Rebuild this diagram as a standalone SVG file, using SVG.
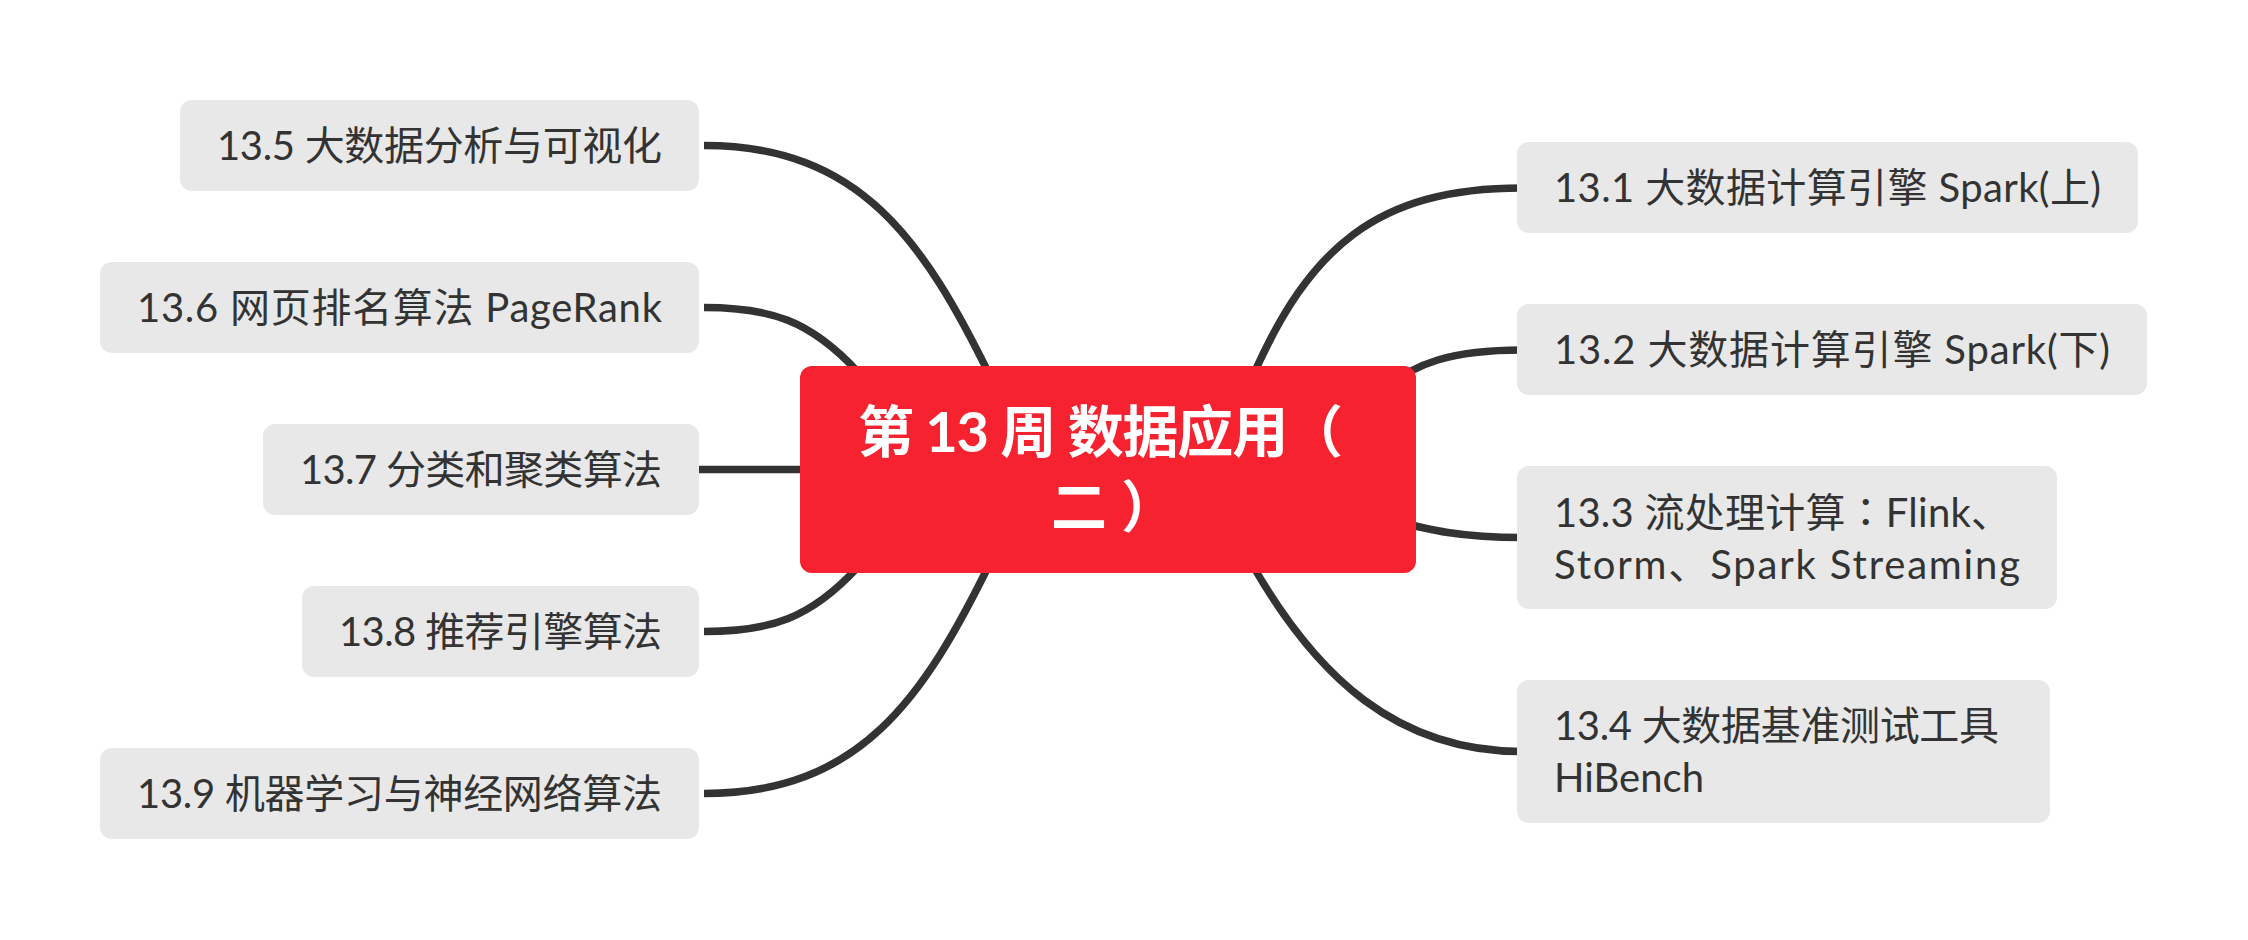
<svg xmlns="http://www.w3.org/2000/svg" width="2248" height="940" viewBox="0 0 2248 940">
  <style>
    .bg { fill: #FFFFFF; }
    .link { fill: none; stroke: #333333; stroke-width: 7.5; stroke-linecap: butt; }
    .topic { fill: #E8E8E8; }
    .central { fill: #F6222F; }
    .label { font-family: Lato, "Noto Sans CJK SC", sans-serif; font-size: 40px; fill: #333333; }
    .title { font-family: Lato, "Noto Sans CJK SC", sans-serif; font-size: 56px; font-weight: bold; fill: #FFFFFF; }
    .centred-punct { font-family: "Noto Sans CJK JP", sans-serif; }
  </style>

  <rect class="bg" x="0" y="0" width="2248" height="940"/>

  <!-- branch lines, drawn beneath the topics -->
  <g id="connectors">
    <path class="link" d="M 992 380 C 923.5 240, 860 145.5, 704 145.5"/>
    <path class="link" d="M 858 372 C 810 320, 770 307.5, 704 307.5"/>
    <path class="link" d="M 805 469.5 L 694 469.5"/>
    <path class="link" d="M 858 567 C 810 619, 770 631.5, 704 631.5"/>
    <path class="link" d="M 992 559 C 923.5 699, 860 793.5, 704 793.5"/>
    <path class="link" d="M 1252 378 C 1309 248, 1376 188, 1522 188"/>
    <path class="link" d="M 1385 388 C 1415 364, 1450 350, 1522 350"/>
    <path class="link" d="M 1390 520 C 1430 530, 1460 537.5, 1522 537.5"/>
    <path class="link" d="M 1253 566 C 1317 677, 1396.7 751.5, 1522 751.5"/>
  </g>

  <!-- central topic -->
  <g id="central">
    <rect class="central" x="800" y="366" width="616" height="207" rx="12" ry="12"/>
    <text class="title" x="858" y="452" textLength="485">第 13 周 数据应用（</text>
    <text class="title" x="1051" y="527">二<tspan dx="14">）</tspan></text>
  </g>

  <!-- left-hand topics -->
  <g id="t13-5">
    <rect class="topic" x="180" y="100" width="519" height="91" rx="12" ry="12"/>
    <text class="label" x="217" y="160" textLength="445">13.5 大数据分析与可视化</text>
  </g>
  <g id="t13-6">
    <rect class="topic" x="100" y="262" width="599" height="91" rx="12" ry="12"/>
    <text class="label" x="137" y="322" textLength="525">13.6 网页排名算法 PageRank</text>
  </g>
  <g id="t13-7">
    <rect class="topic" x="263" y="424" width="436" height="91" rx="12" ry="12"/>
    <text class="label" x="300" y="484" textLength="362">13.7 分类和聚类算法</text>
  </g>
  <g id="t13-8">
    <rect class="topic" x="302" y="586" width="397" height="91" rx="12" ry="12"/>
    <text class="label" x="339" y="646" textLength="323">13.8 推荐引擎算法</text>
  </g>
  <g id="t13-9">
    <rect class="topic" x="100" y="748" width="599" height="91" rx="12" ry="12"/>
    <text class="label" x="137" y="808" textLength="525">13.9 机器学习与神经网络算法</text>
  </g>

  <!-- right-hand topics -->
  <g id="t13-1">
    <rect class="topic" x="1517" y="142" width="621" height="91" rx="12" ry="12"/>
    <text class="label" x="1554" y="202" textLength="547">13.1 大数据计算引擎 Spark(上)</text>
  </g>
  <g id="t13-2">
    <rect class="topic" x="1517" y="304" width="630" height="91" rx="12" ry="12"/>
    <text class="label" x="1554" y="364" textLength="556">13.2 大数据计算引擎 Spark(下)</text>
  </g>
  <g id="t13-3">
    <rect class="topic" x="1517" y="466" width="540" height="143" rx="12" ry="12"/>
    <text class="label" x="1554" y="527" textLength="457">13.3 流处理计算<tspan class="centred-punct">：</tspan>Flink、</text>
    <text class="label" x="1554" y="579" textLength="466">Storm、Spark Streaming</text>
  </g>
  <g id="t13-4">
    <rect class="topic" x="1517" y="680" width="533" height="143" rx="12" ry="12"/>
    <text class="label" x="1554" y="740" textLength="445">13.4 大数据基准测试工具</text>
    <text class="label" x="1554" y="792">HiBench</text>
  </g>
</svg>
